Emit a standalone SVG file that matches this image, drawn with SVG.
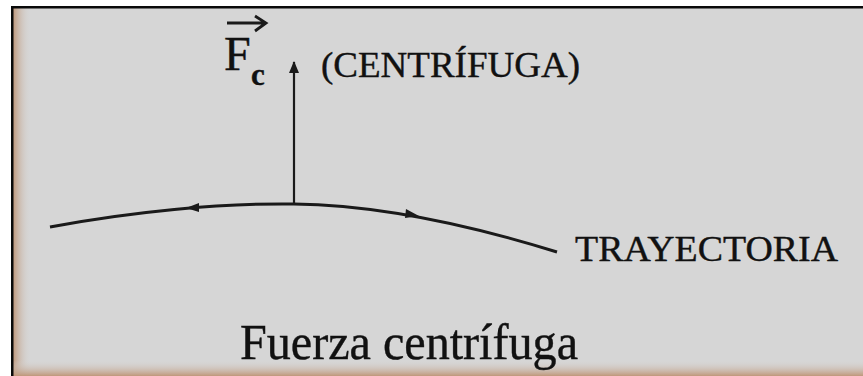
<svg xmlns="http://www.w3.org/2000/svg" width="863" height="376" viewBox="0 0 863 376">
  <defs>
    <linearGradient id="leftShade" x1="0" y1="0" x2="1" y2="0">
      <stop offset="0" stop-color="#bf977a"/>
      <stop offset="1" stop-color="#d6d6d6" stop-opacity="0"/>
    </linearGradient>
    <linearGradient id="bottomShade" x1="0" y1="0" x2="0" y2="1">
      <stop offset="0" stop-color="#d6d6d6" stop-opacity="0"/>
      <stop offset="1" stop-color="#bf977a"/>
    </linearGradient>
    <marker id="head" markerWidth="12" markerHeight="10" refX="11" refY="5" orient="auto" markerUnits="userSpaceOnUse">
      <path d="M0,0 L12,5 L0,10 Z" fill="#1a1a1a"/>
    </marker>
  </defs>
  <style>
    .serif { font-family: "Liberation Serif", "Times New Roman", serif; fill: #111; stroke: #111; stroke-width: 0.4; }
    .line { stroke: #1a1a1a; fill: none; }
  </style>

  <g id="frame">
    <rect x="0" y="0" width="863" height="376" fill="#ffffff"/>
    <rect x="11" y="6" width="852" height="370" fill="#d6d6d6"/>
    <rect x="13" y="8" width="18" height="368" fill="url(#leftShade)"/>
    <rect x="13" y="360" width="850" height="16" fill="url(#bottomShade)"/>
    <rect x="11" y="6" width="852" height="2.5" fill="#0a0a0a"/>
    <rect x="11" y="6" width="2.5" height="370" fill="#0a0a0a"/>
  </g>

  <g id="connectors">
    <path class="line" stroke-width="3" d="M50,227 C130,212 220,203 294,204 C380,205 470,225 557,252"/>
    <path d="M186,208 L199,203 L199,212 Z" fill="#1a1a1a"/>
    <path d="M419,216 L406,209 L405,218 Z" fill="#1a1a1a"/>
    <line class="line" stroke-width="2.2" x1="294" y1="205" x2="294" y2="62" marker-end="url(#head)"/>
  </g>

  <g id="force-label">
    <path class="line" stroke-width="2.8" d="M227,23 L265,23 M255,16 L266,23 L255,31"/>
    <text class="serif" x="224" y="70" font-size="48">F</text>
    <text class="serif" x="251" y="85" font-size="31" font-weight="bold">c</text>
    <text class="serif" x="321" y="77" font-size="36" textLength="259" lengthAdjust="spacingAndGlyphs">(CENTRÍFUGA)</text>
  </g>

  <g id="trajectory-label">
    <text class="serif" x="575" y="261" font-size="35" textLength="263" lengthAdjust="spacingAndGlyphs">TRAYECTORIA</text>
  </g>

  <g id="title">
    <text class="serif" x="240" y="359" font-size="50" textLength="338" lengthAdjust="spacingAndGlyphs">Fuerza centrífuga</text>
  </g>
</svg>
